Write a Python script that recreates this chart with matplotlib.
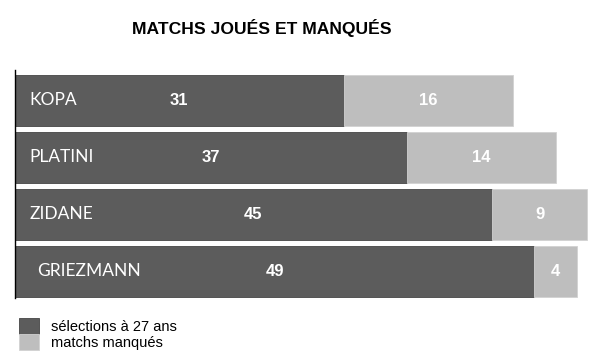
import matplotlib.pyplot as plt

# data
joueurs = ['KOPA', 'PLATINI', 'ZIDANE', 'GRIEZMANN']
selections = [31, 37, 45, 49]
manques = [16, 14, 9, 4]

fonce = '#5c5c5c'
clair = '#bebebe'

fig = plt.figure(figsize=(6, 3.55), dpi=100)
ax = fig.add_axes([15 / 600, 57 / 355, 585 / 600, 228 / 355])

y = list(range(len(joueurs)))
b1 = ax.barh(y, selections, height=0.9, color=fonce, edgecolor='#454545',
             linewidth=0.6, label='sélections à 27 ans')
b2 = ax.barh(y, manques, left=selections, height=0.9, color=clair,
             edgecolor='#d2d2d2', linewidth=0.6, label='matchs manqués')

for i, nom in enumerate(joueurs):
    dx = 2.1 if nom == 'GRIEZMANN' else 1.4
    ax.text(dx, i, nom, color='white', fontsize=12.5, family='Lato',
            ha='left', va='center')
    ax.text(selections[i] / 2, i, str(selections[i]), color='white',
            fontsize=12, fontweight='bold', family='Liberation Sans',
            ha='center', va='center')
    ax.text(selections[i] + manques[i] / 2, i, str(manques[i]), color='white',
            fontsize=12, fontweight='bold', family='Liberation Sans',
            ha='center', va='center')

ax.set_xlim(0, 585 / 10.6)
ax.set_ylim(3.47, -0.53)
ax.set_xticks([])
ax.set_yticks([])
for s in ['top', 'right', 'bottom']:
    ax.spines[s].set_visible(False)
ax.spines['left'].set_linewidth(1.0)
ax.spines['left'].set_color('black')

fig.text(262 / 600, 1 - 28 / 355, 'MATCHS JOUÉS ET MANQUÉS', ha='center',
         va='center', fontsize=12.6, fontweight='bold', family='Liberation Sans')

fig.legend(handles=[b1, b2], loc='upper left',
           bbox_to_anchor=(10 / 600, 1 - 309 / 355), frameon=False,
           handlelength=1.4, handleheight=1.3,
           handletextpad=0.8, labelspacing=0.05, borderaxespad=0.2,
           prop={'family': 'Liberation Sans', 'size': 10.5})

fig.savefig('out.png', dpi=100)
